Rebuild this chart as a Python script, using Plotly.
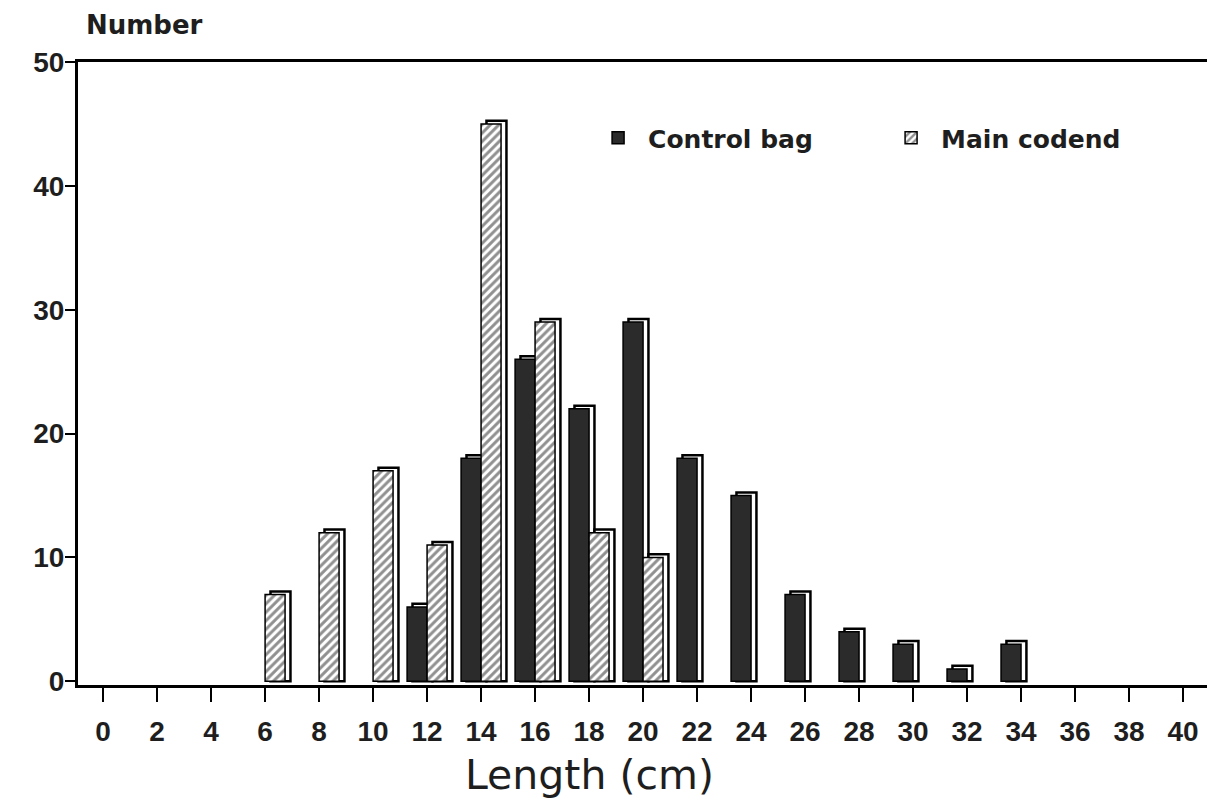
import plotly.graph_objects as go

lengths = list(range(0, 42, 2))
control_bag = [None, None, None, None, None, None, 6, 18, 26, 22, 29, 18, 15, 7, 4, 3, 1, 3, None, None, None]
main_codend = [None, None, None, 7, 12, 17, 11, 45, 29, 12, 10, None, None, None, None, None, None, None, None, None, None]
y_ticks = [0, 10, 20, 30, 40, 50]

BW = 0.74
DX = 0.2
DY = 0.25
FONT = "Liberation Sans"
FONT2 = "DejaVu Sans"
INK = "#1e1e1e"


def shadow(vals):
    return [None if v is None else v + DY for v in vals]


fig = go.Figure()

# control bag: 3D side/top, then front face
fig.add_trace(go.Bar(x=lengths, y=shadow(control_bag), offset=-BW + DX, width=BW,
                     marker=dict(color="white", line=dict(color="black", width=2.5)),
                     showlegend=False, hoverinfo="skip"))
fig.add_trace(go.Bar(x=lengths, y=control_bag, offset=-BW, width=BW, name="Control bag",
                     marker=dict(color="#2b2b2b", line=dict(color="black", width=1.5))))
# main codend
fig.add_trace(go.Bar(x=lengths, y=shadow(main_codend), offset=DX, width=BW,
                     marker=dict(color="white", line=dict(color="black", width=2.5)),
                     showlegend=False, hoverinfo="skip"))
fig.add_trace(go.Bar(x=lengths, y=main_codend, offset=0, width=BW, name="Main codend",
                     marker=dict(color="white", line=dict(color="black", width=1.5),
                                 pattern=dict(shape="/", fgcolor="#222222", bgcolor="white",
                                              size=6, solidity=0.5))))

fig.update_layout(
    width=1207, height=799,
    margin=dict(l=70, r=5, t=54, b=122, autoexpand=False),
    paper_bgcolor="white", plot_bgcolor="white",
    barmode="overlay",
    font=dict(family=FONT, color=INK),
    showlegend=True,
    legend=dict(orientation="h", x=0.4506, y=0.878, xanchor="left", yanchor="middle",
                font=dict(size=25, family=FONT2, color=INK, weight="bold"),
                bgcolor="rgba(0,0,0,0)", entrywidth=228, entrywidthmode="pixels",
                itemwidth=50),
    xaxis=dict(range=[-0.93, 41.0], tickvals=lengths, ticktext=[str(v) for v in lengths],
               ticks="outside", ticklen=14, tickwidth=1.5, tickcolor="black",
               ticklabelstandoff=6, automargin=False,
               tickfont=dict(size=28, family=FONT, color=INK, weight="bold"),
               showline=True, linecolor="black", linewidth=2.5, mirror=True,
               showgrid=False, zeroline=False),
    yaxis=dict(range=[-0.3, 50], tickvals=y_ticks, ticktext=[str(v) for v in y_ticks],
               ticks="outside", ticklen=10, tickwidth=1.5, tickcolor="black",
               ticklabelstandoff=-5, automargin=False,
               tickfont=dict(size=28, family=FONT, color=INK, weight="bold"),
               showline=True, linecolor="black", linewidth=3, mirror=True,
               showgrid=False, zeroline=False),
    annotations=[
        dict(text="Number", xref="paper", yref="paper", x=0.059, y=1.059,
             xanchor="center", yanchor="middle", showarrow=False,
             font=dict(size=26, family=FONT2, color=INK, weight="bold")),
        dict(text="Length (cm)", xref="paper", yref="paper", x=0.452, y=-0.1445,
             xanchor="center", yanchor="middle", showarrow=False,
             font=dict(size=41, family=FONT2, color=INK)),
    ],
)

fig.write_html("out.html")
